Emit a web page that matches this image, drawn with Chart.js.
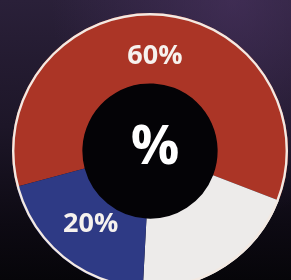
<!DOCTYPE html>
<html>
<head>
<meta charset="utf-8">
<script src="https://cdn.jsdelivr.net/npm/chart.js@4.4.1/dist/chart.umd.min.js"></script>
<style>
    html, body {
        margin: 0;
        width: 291px;
        height: 280px;
        overflow: hidden;
        background:
            radial-gradient(ellipse at 80% 0%, rgba(80, 55, 105, 0.55) 0%, rgba(80, 55, 105, 0) 55%),
            linear-gradient(180deg, #2a2039 0%, #1d1628 45%, #0d0a13 80%, #060509 100%);
    }
    #wrap {
        position: absolute;
        left: 12px;
        top: 13px;
        width: 276px;
        height: 276px;
    }
</style>
</head>
<body>
<div id="wrap"><canvas id="donaChart" width="276" height="276"></canvas></div>
<script>
// Datos del gráfico (rojo, blanco, azul)
const segmentos = ['Rojo', 'Blanco', 'Azul'];
const valores = [60, 20, 20];
const etiquetas = ['60%', '', '20%'];
const colores = ['#ab3526', '#edebea', '#2e3a85'];
const textoCentro = '%';

// Plugin propio: círculo negro central, aro blanco exterior y textos
const decoracion = {
    id: 'decoracion',
    beforeDatasetsDraw(chart) {
        const arc = chart.getDatasetMeta(0).data[0];
        const ctx = chart.ctx;
        ctx.save();
        ctx.beginPath();
        ctx.arc(arc.x, arc.y, arc.innerRadius + 0.5, 0, Math.PI * 2);
        ctx.fillStyle = '#040306';
        ctx.fill();
        ctx.restore();
    },
    afterDatasetsDraw(chart) {
        const arcs = chart.getDatasetMeta(0).data;
        const ctx = chart.ctx;
        const a0 = arcs[0];
        ctx.save();
        // aro blanco del borde
        ctx.beginPath();
        ctx.arc(a0.x, a0.y, a0.outerRadius - 1.2, 0, Math.PI * 2);
        ctx.strokeStyle = '#f3e9e2';
        ctx.lineWidth = 2.4;
        ctx.stroke();

        // porcentajes sobre cada segmento
        ctx.fillStyle = '#f6f2ee';
        ctx.textAlign = 'center';
        ctx.textBaseline = 'middle';
        ctx.font = 'bold 27px "Open Sans", Lato, sans-serif';
        arcs.forEach((arc, i) => {
            if (!etiquetas[i]) return;
            const medio = (arc.startAngle + arc.endAngle) / 2;
            const r = arc.innerRadius + (arc.outerRadius - arc.innerRadius) * 0.38;
            ctx.fillText(etiquetas[i], arc.x + Math.cos(medio) * r, arc.y + Math.sin(medio) * r);
        });

        // símbolo del centro
        ctx.fillStyle = '#ffffff';
        ctx.font = 'bold 54px "Open Sans", Lato, sans-serif';
        ctx.fillText(textoCentro, a0.x + 5, a0.y - 2);
        ctx.restore();
    }
};

new Chart(document.getElementById('donaChart'), {
    type: 'doughnut',
    data: {
        labels: segmentos,
        datasets: [{
            data: valores,
            backgroundColor: colores,
            borderWidth: 0,
            hoverOffset: 0,
            offset: 0
        }]
    },
    options: {
        responsive: false,
        animation: false,
        rotation: -105,
        cutout: '49%',
        layout: { padding: 0 },
        plugins: {
            legend: { display: false },
            tooltip: { enabled: false }
        }
    },
    plugins: [decoracion]
});
</script>
</body>
</html>
